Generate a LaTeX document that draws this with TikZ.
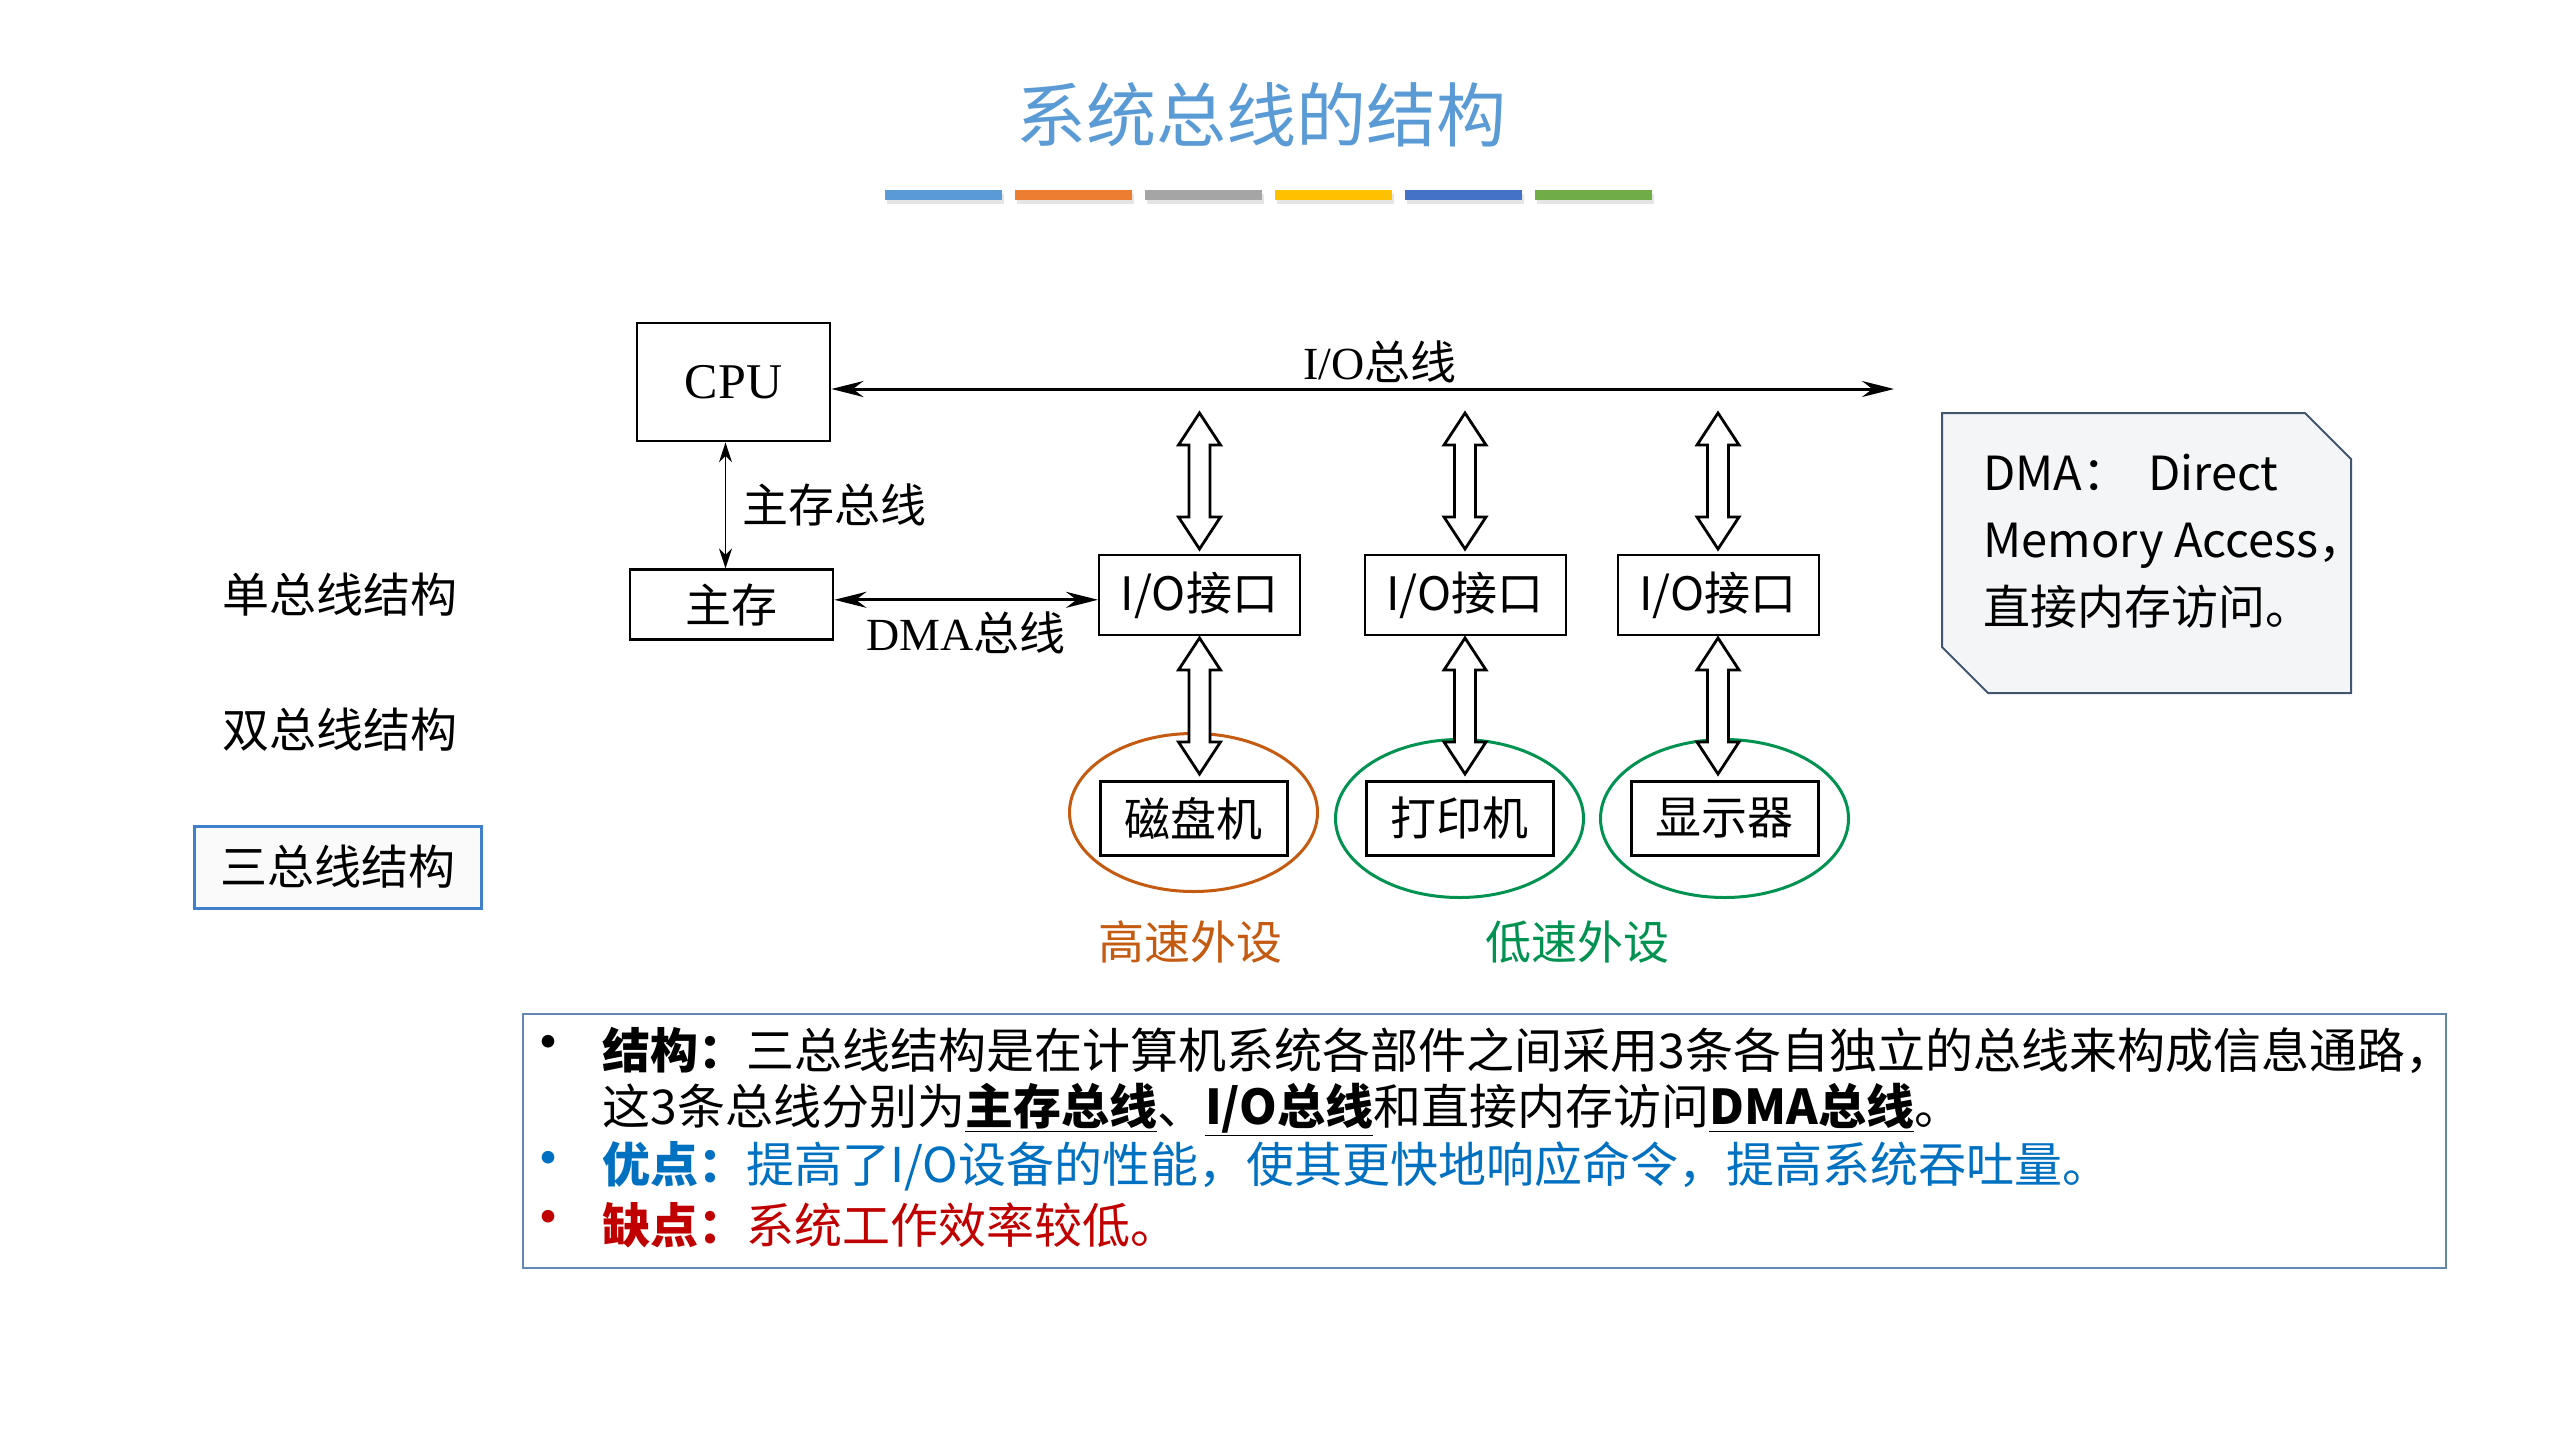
\documentclass[tikz,border=0pt]{standalone}
\usepackage{fontspec}
\setmainfont{Noto Sans CJK SC}
\newfontfamily\romanlat{Liberation Serif}
\usetikzlibrary{arrows.meta, positioning, calc, shapes.geometric}

\definecolor{titleblue}{RGB}{91,155,213}
\definecolor{barorange}{RGB}{237,125,49}
\definecolor{bargray}{RGB}{165,165,165}
\definecolor{baryellow}{RGB}{255,192,0}
\definecolor{bardarkblue}{RGB}{68,114,196}
\definecolor{bargreen}{RGB}{112,173,71}
\definecolor{fastorange}{RGB}{197,90,17}
\definecolor{slowgreen}{RGB}{0,146,80}
\definecolor{menublue}{RGB}{62,128,201}
\definecolor{noteedge}{RGB}{66,85,110}
\definecolor{notefill}{RGB}{244,245,247}
\definecolor{sumedge}{RGB}{100,135,175}
\definecolor{problue}{RGB}{0,112,192}
\definecolor{conred}{RGB}{192,0,0}

\tikzstyle{menu} = [font=\fontsize{23.5}{28}\selectfont]
\tikzstyle{unitbox} = [rectangle, draw, line width=1.4pt, fill=white, text centered, font=\fontsize{23}{28}\selectfont]
\tikzstyle{portbox} = [rectangle, draw, line width=1pt, fill=white, minimum width=100.5pt, minimum height=40pt, font=\fontsize{23}{28}\selectfont]
\tikzstyle{devbox} = [rectangle, draw, line width=1.5pt, fill=white, minimum width=93.5pt, minimum height=37pt, font=\fontsize{23}{28}\selectfont]
\tikzstyle{ringline} = [ellipse, draw, line width=1.5pt, minimum width=124pt, minimum height=79pt]
\tikzstyle{buslabel} = [font=\fontsize{23}{28}\selectfont]
\tikzstyle{bus} = [line width=1.5pt, {Stealth[length=16pt,width=8pt]}-{Stealth[length=16pt,width=8pt]}]
\tikzstyle{membus} = [line width=0.9pt, {Stealth[length=10pt,width=6.5pt]}-{Stealth[length=10pt,width=6.5pt]}]
\tikzstyle{hollowbus} = [draw, fill=white, line width=1.4pt, to path={let \p1=(\tikztostart), \p2=(\tikztotarget) in
  (\x1,\y1) -- (\x1+10.5pt,\y1-16pt) -- (\x1+5.25pt,\y1-16pt) -- (\x1+5.25pt,\y2+16pt) -- (\x1+10.5pt,\y2+16pt) -- (\x1,\y2)
  -- (\x1-10.5pt,\y2+16pt) -- (\x1-5.25pt,\y2+16pt) -- (\x1-5.25pt,\y1-16pt) -- (\x1-10.5pt,\y1-16pt) -- cycle}]
\tikzstyle{note} = [draw=noteedge, fill=notefill, line width=1pt]
\tikzstyle{pointline} = [anchor=west, inner sep=0pt, font=\fontsize{24}{29}\selectfont]
\tikzstyle{bulletmark} = [inner sep=0pt, font=\fontsize{30}{30}\selectfont]

\begin{document}
\begin{tikzpicture}[x=0.5pt, y=-0.5pt, node distance=72pt]
  \useasboundingbox (0,0) rectangle (2560,1440);
  \fill[white] (0,0) rectangle (2560,1440);
  \node (title) [text=titleblue, font=\fontsize{35}{40}\selectfont] at (1261,115) {系统总线的结构};
  \foreach \c [count=\i from 0] in {titleblue,barorange,bargray,baryellow,bardarkblue,bargreen} {
    \fill[black!10] (887+130*\i,194) rectangle ++(117,10);
    \fill[\c] (885+130*\i,190) rectangle ++(117,10);
  }
  %Menu
  \node (single) [menu] at (340,595) {单总线结构};
  \node (double) [menu] at (340,730) {双总线结构};
  \node (triple) [menu, draw=menublue, line width=1.5pt, fill=black!2, minimum width=143.5pt, minimum height=41pt] at (337.5,867) {三总线结构};
  %Buses
  \node (cpu) [unitbox, minimum width=96.5pt, minimum height=59pt, font=\fontsize{25}{30}\selectfont] at (733.5,382) {\romanlat CPU};
  \node (mem) [unitbox, minimum width=101.5pt, minimum height=35pt, below=63pt of cpu, xshift=-1pt] {主存};
  \node (io1) [portbox] at (1199.5,595) {I/O接口};
  \node (io2) [portbox] at (1465,595) {I/O接口};
  \node (io3) [portbox] at (1718,595) {I/O接口};
  \coordinate (busend) at (1894,389);
  \draw [bus] (cpu.east |- busend) -- node[buslabel, above, pos=.516, inner sep=2pt] {{\romanlat I/O}总线} (busend);
  \draw [membus] ($(cpu.south)+(-8,0)$) -- node[buslabel, right, inner sep=8pt] {主存总线} ($(cpu.south |- mem.north)+(-8,0)$);
  \draw [bus] ($(mem.east)+(0,-5)$) -- node[buslabel, below, inner sep=5pt] {{\romanlat DMA}总线} ($(mem.east -| io1.west)+(0,-5)$);
  %Peripherals
  \node (disk) [devbox, below=of io1, xshift=-3pt] {磁盘机};
  \node (printer) [devbox, below=of io2, xshift=-2.75pt] {打印机};
  \node (display) [devbox, below=of io3, xshift=3.25pt] {显示器};
  \node (diskring) [ringline, draw=fastorange, yshift=3pt] at (disk) {};
  \node (printring) [ringline, draw=slowgreen] at (printer) {};
  \node (showring) [ringline, draw=slowgreen] at (display) {};
  \foreach \io/\dv in {io1/disk, io2/printer, io3/display} {
    \draw [hollowbus] ($(\io.north |- busend)+(0,24)$) to ($(\io.north)+(0,-5)$);
    \draw [hollowbus] ($(\io.south)+(0,2)$) to ($(\io.south |- \dv.north)+(0,-6)$);
  }
  \node (fast) [buslabel, text=fastorange] at (1190,942) {高速外设};
  \node (slow) [buslabel, text=slowgreen] at (1577,942) {低速外设};
  %DMA note
  \filldraw [note] (1942,413) -- (2305,413) -- (2351,459) -- (2351,693) -- (1988,693) -- (1942,647) -- cycle;
  \node (dmanote) [anchor=north west, align=left, inner sep=0pt, font=\fontsize{23.5}{33.5}\selectfont] at (1983,454) {DMA：\hspace{.4em}Direct\\Memory Access，\\直接内存访问。};
  %Summary
  \node (summary) [draw=sumedge, line width=1pt, fill=white, anchor=north west, minimum width=961.5pt, minimum height=127pt] at (522,1013) {};
  \node (struct) [pointline] at (602,1050) {\textbf{结构：}三总线结构是在计算机系统各部件之间采用3条各自独立的总线来构成信息通路，};
  \node (struct2) [pointline] at (602,1110) {这3条总线分别为\underline{\textbf{主存总线}}、\underline{\textbf{I/O总线}}和直接内存访问\underline{\textbf{DMA总线}}。};
  \node (pro) [pointline, text=problue] at (602,1166) {\textbf{优点：}提高了I/O设备的性能，使其更快地响应命令，提高系统吞吐量。};
  \node (con) [pointline, text=conred] at (602,1225) {\textbf{缺点：}系统工作效率较低。};
  \node (dot1) [bulletmark] at (struct.west -| 548,0) {•};
  \node (dot2) [bulletmark, text=problue] at (pro.west -| 548,0) {•};
  \node (dot3) [bulletmark, text=conred] at (con.west -| 548,0) {•};
\end{tikzpicture}
\end{document}
